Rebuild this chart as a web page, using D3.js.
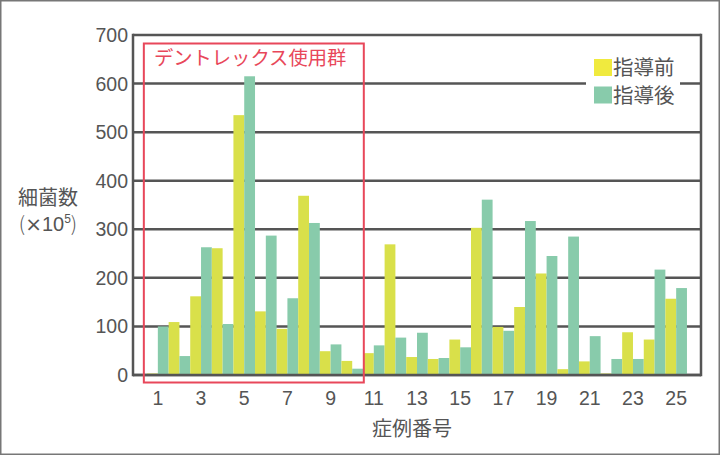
<!DOCTYPE html>
<html><head><meta charset="utf-8">
<script src="https://cdn.jsdelivr.net/npm/d3@7"></script>
<style>
body{margin:0;background:#fff;}
svg{display:block;font-family:"Liberation Sans","Noto Sans CJK JP",sans-serif;}
</style></head>
<body><svg id="chart" width="720" height="455"></svg>
<script>
const cases = d3.range(1, 26);
const seriesNames = ["指導前", "指導後"];
const before = [3,109,162,261,535,131,95,369,49,29,45,269,37,33,73,303,99,140,209,12,28,3,88,73,157];
const after  = [100,39,263,105,615,287,158,313,63,13,61,77,87,35,57,361,91,317,245,285,80,33,33,217,179];
const yTicks = [0,100,200,300,400,500,600,700];
const xTickLabels = [1,3,5,7,9,11,13,15,17,19,21,23,25];
const groupCases = [1,10];
const groupLabel = "デントレックス使用群";
const yLabel1 = "細菌数";
const xLabel = "症例番号";

const barColors = ["#d9e04a", "#88cbab"];
const legendColors = ["#f0ea3e", "#88cbab"];
const axisColor = "#555";

const svg = d3.select("#chart");
svg.append("rect").attr("x",0.75).attr("y",0.75).attr("width",718.5).attr("height",453.5)
  .attr("fill","#fff").attr("stroke","#777").attr("stroke-width",1.5);

const L = 133, R = 701, T = 35, B = 375;
const x = d3.scaleBand().domain(cases).range([L, R]).paddingInner(0).paddingOuter(0.65);
const xs = d3.scaleBand().domain([0,1]).range([0, x.bandwidth()]);
const y = d3.scaleLinear().domain([0,700]).range([B, T]);

// grid
svg.append("g").selectAll("line").data(yTicks).join("line")
  .attr("x1", L).attr("x2", R).attr("y1", d=>y(d)).attr("y2", d=>y(d))
  .attr("stroke", axisColor).attr("stroke-width", 2.5);

// bars
const data = cases.map((c,i)=>({c, vals:[before[i], after[i]]}));
const g = svg.append("g");
g.selectAll("g").data(data).join("g")
  .attr("transform", d=>`translate(${x(d.c)},0)`)
  .selectAll("rect").data(d=>d.vals.map((v,k)=>({v,k}))).join("rect")
  .attr("x", d=>xs(d.k)).attr("width", xs.bandwidth())
  .attr("y", d=>y(d.v)).attr("height", d=>y(0)-y(d.v))
  .attr("fill", d=>barColors[d.k]);

// axis frame lines
svg.append("line").attr("x1",L).attr("x2",L).attr("y1",T-1.2).attr("y2",B+1.2).attr("stroke",axisColor).attr("stroke-width",2.5);
svg.append("line").attr("x1",R).attr("x2",R).attr("y1",T-1.2).attr("y2",B+1.2).attr("stroke",axisColor).attr("stroke-width",2.5);
svg.append("line").attr("x1",L).attr("x2",R).attr("y1",y(0)).attr("y2",y(0)).attr("stroke",axisColor).attr("stroke-width",2.5);

// y tick labels
svg.append("g").selectAll("text").data(yTicks).join("text")
  .attr("x", 128).attr("y", d=>y(d)+7).attr("text-anchor","end")
  .attr("font-size",19.5).attr("fill",axisColor).text(d=>d);

// x tick labels
svg.append("g").selectAll("text").data(xTickLabels).join("text")
  .attr("x", d=>x(d)+x.bandwidth()/2).attr("y", 405).attr("text-anchor","middle")
  .attr("font-size",19.5).attr("fill",axisColor).text(d=>d);

// axis titles
svg.append("text").attr("x",48).attr("y",205).attr("text-anchor","middle")
  .attr("font-size",20).attr("fill",axisColor).text(yLabel1);
const yl2 = svg.append("text").attr("x",48).attr("y",231).attr("text-anchor","middle")
  .attr("font-size",20).attr("fill",axisColor);
yl2.append("tspan").attr("font-family","Noto Sans CJK JP").attr("font-weight",300).text("(");
yl2.append("tspan").attr("font-family","DejaVu Sans").attr("font-size",20).text("×");
yl2.append("tspan").text("10");
yl2.append("tspan").attr("font-size",12).attr("dy",-8).text("5");
yl2.append("tspan").attr("dy",8).attr("font-family","Noto Sans CJK JP").attr("font-weight",300).text(")");
svg.append("text").attr("x",412).attr("y",436).attr("text-anchor","middle")
  .attr("font-size",20).attr("fill",axisColor).text(xLabel);

// group box
const gx0 = x(groupCases[0]) - 3.2;
const gx1 = x(groupCases[1]) + x.bandwidth() + 0.8;
svg.append("rect").attr("x", gx0).attr("y", 43.5)
  .attr("width", gx1 - gx0).attr("height", 339)
  .attr("fill","none").attr("stroke","#e8475a").attr("stroke-width",2);
svg.append("text").attr("x",154).attr("y",65).attr("font-size",19.3).attr("fill","#e8475a")
  .attr("font-family","Noto Sans CJK JP").text(groupLabel);

// legend
svg.append("rect").attr("x",586).attr("y",52).attr("width",94).attr("height",58).attr("fill","#fff");
const lg = svg.append("g").selectAll("g").data(seriesNames).join("g")
  .attr("transform",(d,i)=>`translate(594,${59+i*27.5})`);
lg.append("rect").attr("width",18).attr("height",17).attr("fill",(d,i)=>legendColors[i]);
lg.append("text").attr("x",19).attr("y",16).attr("font-size",20.5).attr("fill",axisColor)
  .attr("font-family","Noto Sans CJK JP").text(d=>d);
</script></body></html>
